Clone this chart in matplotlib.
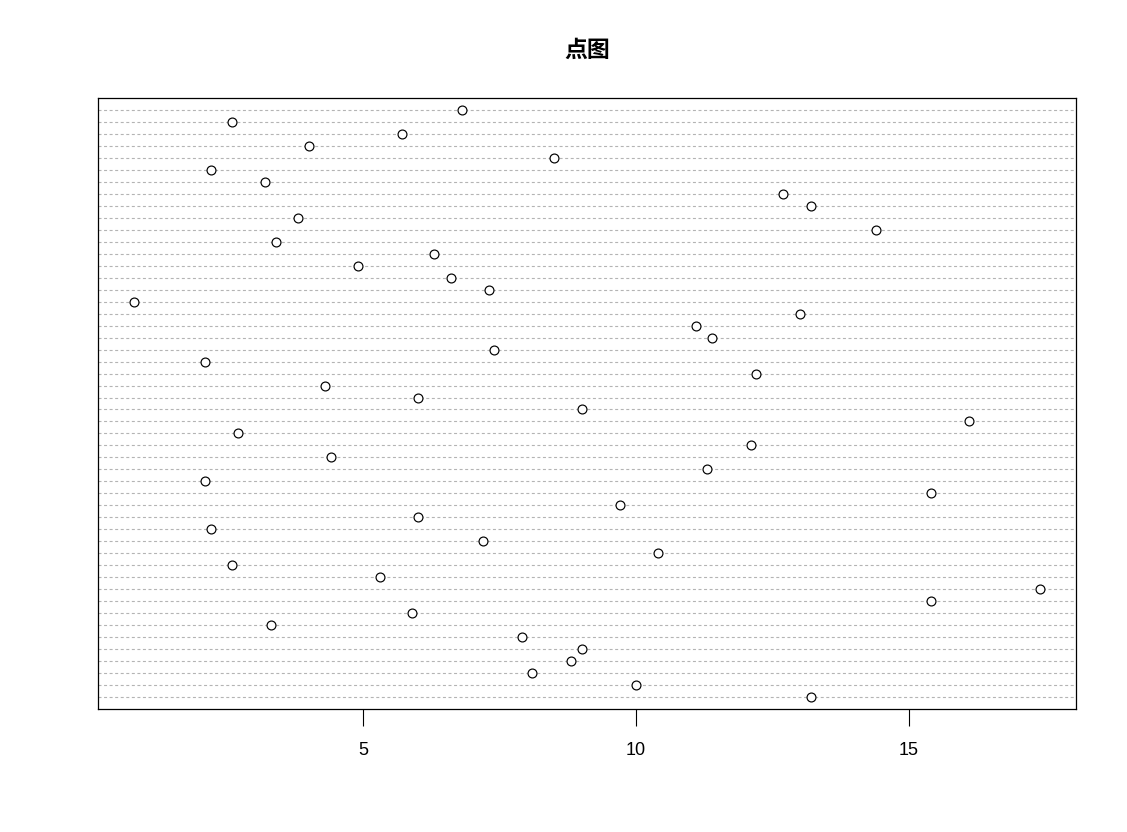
import matplotlib
matplotlib.use('Agg')
import matplotlib.pyplot as plt
import numpy as np

plt.rcParams['font.family'] = ['Liberation Sans', 'Noto Sans CJK SC', 'DejaVu Sans']

title = '点图'

# values listed from the top row down to the bottom row
values = [6.8, 2.6, 5.7, 4.0, 8.5, 2.2, 3.2, 12.7, 13.2, 3.8,
          14.4, 3.4, 6.3, 4.9, 6.6, 7.3, 0.8, 13.0, 11.1, 11.4,
          7.4, 2.1, 12.2, 4.3, 6.0, 9.0, 16.1, 2.7, 12.1, 4.4,
          11.3, 2.1, 15.4, 9.7, 6.0, 2.2, 7.2, 10.4, 2.6, 5.3,
          17.4, 15.4, 5.9, 3.3, 7.9, 9.0, 8.8, 8.1, 10.0, 13.2]
xticks = [5, 10, 15]

n = len(values)
rows = np.arange(n, 0, -1)

fig = plt.figure(figsize=(11.27, 8.32), dpi=100)
ax = fig.add_axes([98 / 1127, 1 - 709 / 832, 978 / 1127, 611 / 832])

# R dotchart: dotted grey guide line on every row
for r in rows:
    ax.axhline(r, color='#B4B4B4', lw=0.8, linestyle=(0, (2.7, 2.3)), zorder=1)

ax.plot(values, rows, linestyle='none', marker='o', ms=6.4,
        mfc='white', mec='black', mew=0.85, zorder=3)

lo, hi = min(values), max(values)
pad = 0.04 * (hi - lo)
ax.set_xlim(lo - pad, hi + pad)
ax.set_ylim(0, n + 1)

ax.set_xticks(xticks)
ax.set_xticklabels([str(t) for t in xticks])
ax.set_yticks([])
ax.tick_params(axis='x', length=12, width=0.8, pad=12, labelsize=13, colors='black')
for s in ax.spines.values():
    s.set_linewidth(0.9)
    s.set_color('black')

fig.text(587.5 / 1127, 1 - 50.5 / 832, title, ha='center', va='center',
         fontsize=16.5, fontweight='bold', family=['Noto Sans CJK SC', 'DejaVu Sans'])

fig.savefig('out.png', dpi=100, facecolor='white')
